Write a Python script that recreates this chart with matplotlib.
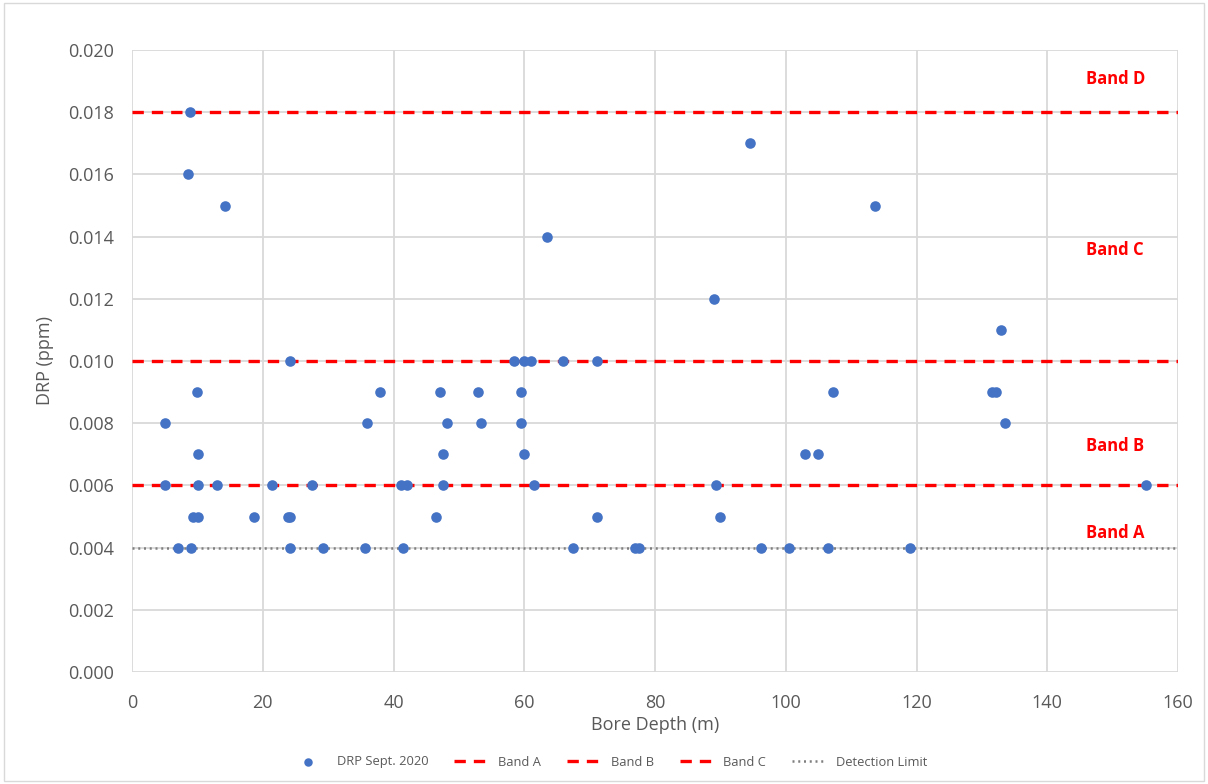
import matplotlib
matplotlib.use("Agg")
import matplotlib.pyplot as plt
from matplotlib.patches import Rectangle

# ---- data ----
depth_m = [5.1, 5.0, 7.1, 8.9, 8.5, 14.2, 10.0, 10.15, 10.05, 9.4, 10.15, 9.1,
           12.95, 18.6, 21.4, 24.1, 23.8, 24.2, 24.1, 27.6, 29.2, 35.9, 38.0, 35.7,
           41.2, 42.0, 41.5, 46.5, 47.1, 47.5, 47.6, 48.2, 53.0, 53.4,
           58.5, 59.9, 61.0, 59.5, 59.5, 60.0, 61.5, 63.5, 65.9, 67.4, 71.2, 71.1,
           77.0, 77.5, 89.0, 89.4, 89.9, 94.6, 96.2, 100.5, 102.9, 104.9, 106.5,
           107.2, 113.6, 119.0, 131.5, 132.2, 133.0, 133.5, 155.1]
drp_ppm = [0.008, 0.006, 0.004, 0.018, 0.016, 0.015, 0.009, 0.007, 0.006, 0.005, 0.005, 0.004,
           0.006, 0.005, 0.006, 0.010, 0.005, 0.005, 0.004, 0.006, 0.004, 0.008, 0.009, 0.004,
           0.006, 0.006, 0.004, 0.005, 0.009, 0.007, 0.006, 0.008, 0.009, 0.008,
           0.010, 0.010, 0.010, 0.009, 0.008, 0.007, 0.006, 0.014, 0.010, 0.004, 0.010, 0.005,
           0.004, 0.004, 0.012, 0.006, 0.005, 0.017, 0.004, 0.004, 0.007, 0.007, 0.004,
           0.009, 0.015, 0.004, 0.009, 0.009, 0.011, 0.008, 0.006]

band_names = ["Band A", "Band B", "Band C"]
band_limits = [0.006, 0.010, 0.018]
detection_limit = 0.004

band_label_texts = ["Band A", "Band B", "Band C", "Band D"]
band_label_y = [0.00447, 0.00727, 0.01357, 0.01907]
band_label_x = 150.4

x_ticks = [0, 20, 40, 60, 80, 100, 120, 140, 160]
y_ticks = [0.000, 0.002, 0.004, 0.006, 0.008, 0.010, 0.012, 0.014, 0.016, 0.018, 0.020]

# ---- style ----
plt.rcParams['font.family'] = ['Open Sans', 'DejaVu Sans']
text_gray = '#595959'
grid_gray = '#d9d9d9'

fig = plt.figure(figsize=(12.08, 7.84), dpi=100)
fig.patches.append(Rectangle((0.003, 0.004), 0.994, 0.992, transform=fig.transFigure,
                             fill=False, edgecolor='#d9d9d9', linewidth=1.0))
ax = fig.add_axes([132/1208, 1 - 672/784, (1178-132)/1208, (672-50)/784])

ax.set_xlim(0, 160)
ax.set_ylim(0, 0.020)
ax.set_xticks(x_ticks)
ax.set_yticks(y_ticks)
ax.set_yticklabels([f"{v:.3f}" for v in y_ticks])
ax.grid(True, color=grid_gray, linewidth=1.3, zorder=0)
for s in ax.spines.values():
    s.set_visible(False)
ax.tick_params(axis='both', length=0, labelsize=13, labelcolor=text_gray)
ax.tick_params(axis='y', pad=13)
ax.tick_params(axis='x', pad=16)

ax.scatter(depth_m, drp_ppm, s=58, color='#4472C4', zorder=4, label='DRP Sept. 2020',
           linewidths=0)
for name, lim in zip(band_names, band_limits):
    ax.axhline(lim, color='#FF0000', linewidth=2.4, linestyle=(0, (3.4, 2.4)), zorder=3,
               label=name)
ax.axhline(detection_limit, color='#7f7f7f', linewidth=1.8, linestyle=(0, (0.8, 1.5)),
           zorder=3, label='Detection Limit')

for t, yv in zip(band_label_texts, band_label_y):
    ax.text(band_label_x, yv, t, color='#FF0000', fontsize=12, fontweight='bold',
            ha='center', va='center', zorder=5)

ax.set_xlabel('Bore Depth (m)', fontsize=13, color=text_gray, labelpad=3)
ax.set_ylabel('DRP (ppm)', fontsize=13, color=text_gray, labelpad=10)

leg = fig.legend(loc='center', bbox_to_anchor=(0.505, 1 - 762/784), ncol=5, frameon=False,
                 fontsize=9.3, handlelength=2.4, columnspacing=2.0, handletextpad=1.0,
                 markerscale=0.8)
for t in leg.get_texts():
    t.set_color(text_gray)

fig.savefig('out.png', dpi=100)
